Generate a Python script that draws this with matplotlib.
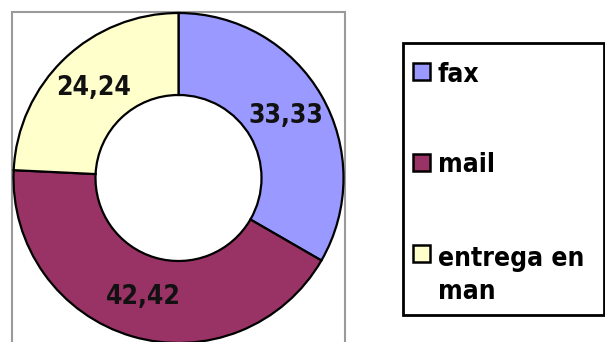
import matplotlib.pyplot as plt
from matplotlib.patches import Rectangle

W, H = 605, 342

# Data
labels = ['fax', 'mail', 'entrega en\nman']
values = [33.33, 42.42, 24.24]
colors = ['#9999FF', '#993366', '#FFFFCC']

font = dict(family='DejaVu Sans', stretch='condensed', weight='bold', size=19)

fig = plt.figure(figsize=(W / 100, H / 100), dpi=100)
ax = fig.add_axes([0, 0, 1, 1])

total = sum(values)


def fmt(p):
    return f'{p * total / 100:.2f}'.replace('.', ',')


wedges, _, autotexts = ax.pie(
    values, colors=colors, startangle=90, counterclock=False,
    radius=165, center=(178.5, H - 178),
    wedgeprops=dict(width=82, edgecolor='black', linewidth=1.6),
    autopct=fmt, pctdistance=0.75,
    textprops=dict(color='#111111', **font))

ax.set_xlim(0, W)
ax.set_ylim(0, H)
ax.set_aspect('equal')
ax.axis('off')

# Plot area frame
ax.add_patch(Rectangle((12, -20), 333, H - 12 + 20, fill=False,
                       edgecolor='#9a9a9a', linewidth=1.5, zorder=0))

# Legend box
ax.add_patch(Rectangle((403, H - 315), 201, 272, fill=False,
                       edgecolor='black', linewidth=2, zorder=3))
key_y = [71.5, 162.5, 253]
# baseline of the last line of each label
text_y = [82, 172, 299]
for lab, col, ky, ty in zip(labels, colors, key_y, text_y):
    ax.add_patch(Rectangle((413, H - ky - 8.5), 17, 17, facecolor=col,
                           edgecolor='black', linewidth=1.8, zorder=4))
    ax.text(438, H - ty, lab, va='baseline', ha='left', linespacing=1.35,
            color='black', **font)

fig.savefig('out.png', dpi=100)
